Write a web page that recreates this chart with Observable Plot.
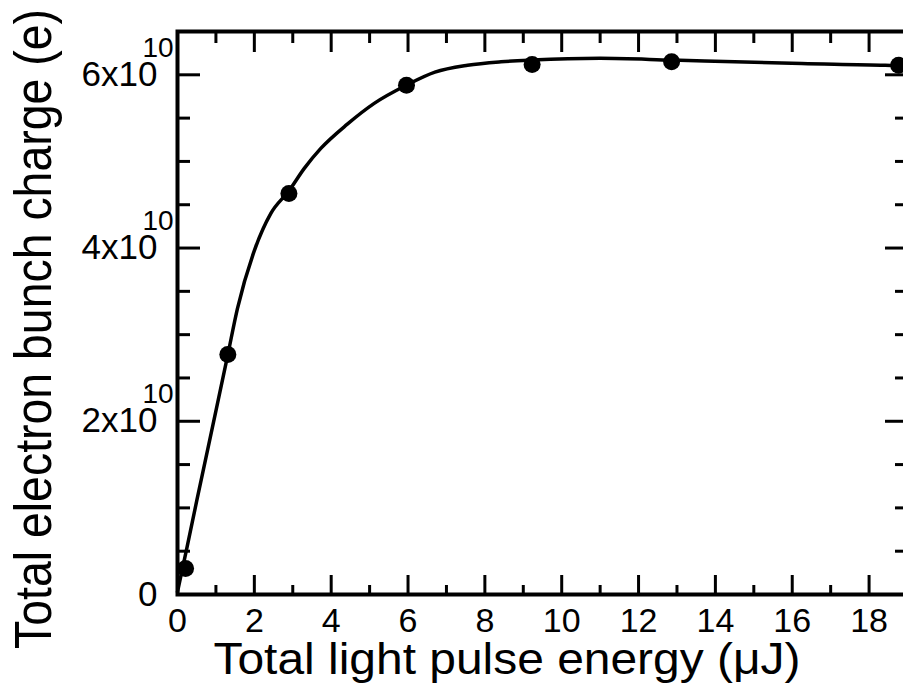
<!DOCTYPE html>
<html>
<head>
<meta charset="utf-8">
<script src="https://cdn.jsdelivr.net/npm/d3@7"></script>
<script src="https://cdn.jsdelivr.net/npm/@observablehq/plot@0.6"></script>
<style>
  html, body { margin: 0; padding: 0; background: #fff; overflow: hidden; }
  #chart { width: 903px; height: 700px; overflow: hidden; }
</style>
</head>
<body>
<div id="chart"></div>
<script>
// Measured points: total light pulse energy (µJ) and bunch charge (units of 1e10 e)
const energy = [0.21, 1.31, 2.9, 5.96, 9.23, 12.86, 18.77];
const charge = [0.30, 2.77, 4.63, 5.88, 6.12, 6.15, 6.11];

// Fitted curve
const curveEnergy = [0, 0.25, 0.5, 1.0, 1.31, 1.56, 2.0, 2.43, 2.9, 3.3, 3.73, 4.42, 5.12, 5.96, 6.7, 7.55, 8.42, 9.23, 11.0, 12.86, 14.5, 16.25, 18.42, 19];
const curveCharge = [0.03, 0.55, 1.08, 2.12, 2.77, 3.3, 3.97, 4.4, 4.66, 4.92, 5.15, 5.43, 5.67, 5.88, 6.03, 6.11, 6.15, 6.17, 6.19, 6.17, 6.15, 6.13, 6.11, 6.1];

// Ticks
const xMajor = [0, 2, 4, 6, 8, 10, 12, 14, 16, 18];
const xMinor = [1, 3, 5, 7, 9, 11, 13, 15, 17];
const yMajor = [0, 2, 4, 6];
const yMinor = [0.5, 1, 1.5, 2.5, 3, 3.5, 4.5, 5, 5.5];
const yExpLabels = [2, 4, 6];
const exponent = "10";

const xTitle = "Total light pulse energy (\u03bcJ)";
const yTitle = "Total electron bunch charge (e)";

const points = energy.map((x, i) => ({x, y: charge[i]}));
const curve = curveEnergy.map((x, i) => ({x, y: curveCharge[i]}));

const font = "'Liberation Sans', Arial, Helvetica, sans-serif";
const tickW = 3;

const chart = Plot.plot({
  width: 910,
  height: 700,
  marginLeft: 177,
  marginRight: 3,
  marginTop: 31,
  marginBottom: 106,
  style: {fontFamily: font, color: "#000", background: "#fff", maxWidth: "none", overflow: "hidden"},
  x: {domain: [0, 19], axis: null},
  y: {domain: [0, 6.5], axis: null},
  marks: [
    // inward ticks
    Plot.axisX({anchor: "bottom", ticks: xMajor, tickSize: -19, fill: "none", strokeWidth: tickW, label: null}),
    Plot.axisX({anchor: "bottom", ticks: xMinor, tickSize: -9, fill: "none", strokeWidth: tickW, label: null}),
    Plot.axisX({anchor: "top", ticks: xMajor, tickSize: -20, fill: "none", strokeWidth: tickW, label: null}),
    Plot.axisX({anchor: "top", ticks: xMinor, tickSize: -11, fill: "none", strokeWidth: tickW, label: null}),
    Plot.axisY({anchor: "left", ticks: yMajor, tickSize: -23, fill: "none", strokeWidth: tickW, label: null}),
    Plot.axisY({anchor: "left", ticks: yMinor, tickSize: -13, fill: "none", strokeWidth: tickW, label: null}),
    Plot.axisY({anchor: "right", ticks: yMajor, tickSize: -23, fill: "none", strokeWidth: tickW, label: null}),
    Plot.axisY({anchor: "right", ticks: yMinor, tickSize: -13, fill: "none", strokeWidth: tickW, label: null}),
    // tick labels
    Plot.axisX({anchor: "bottom", ticks: xMajor, tickSize: 0, tickPadding: 13, fontSize: 34, tickFormat: d => String(d), label: null}),
    Plot.axisY({anchor: "left", ticks: yMajor, tickSize: 0, tickPadding: 20, fontSize: 35, tickFormat: d => d === 0 ? "0" : `${d}x10`, label: null}),
    Plot.text(yExpLabels, {y: d => d, text: () => exponent, frameAnchor: "left", textAnchor: "start", dx: -35, dy: -27, fontSize: 28, fill: "#000"}),
    // frame
    Plot.frame({stroke: "#000", strokeWidth: 4}),
    // fitted curve and points
    Plot.line(curve, {x: "x", y: "y", curve: "monotone-x", stroke: "#000", strokeWidth: 3.5}),
    Plot.dot(points, {x: "x", y: "y", r: 8.5, fill: "#000", stroke: "none"}),
    // axis titles
    Plot.text([xTitle], {frameAnchor: "bottom", textAnchor: "start", dx: -329, dy: 79, fontSize: 45, fill: "#000", className: "xtitle"}),
    Plot.text([yTitle], {frameAnchor: "left", rotate: -90, textAnchor: "start", dx: -143, dy: 336, fontSize: 52, fill: "#000", className: "ytitle"})
  ]
});

document.getElementById("chart").appendChild(chart);
const xt = chart.querySelector(".xtitle text");
if (xt) { xt.setAttribute("textLength", "587"); xt.setAttribute("lengthAdjust", "spacingAndGlyphs"); }
const yt = chart.querySelector(".ytitle text");
if (yt) { yt.setAttribute("textLength", "640"); yt.setAttribute("lengthAdjust", "spacingAndGlyphs"); }
</script>
</body>
</html>
